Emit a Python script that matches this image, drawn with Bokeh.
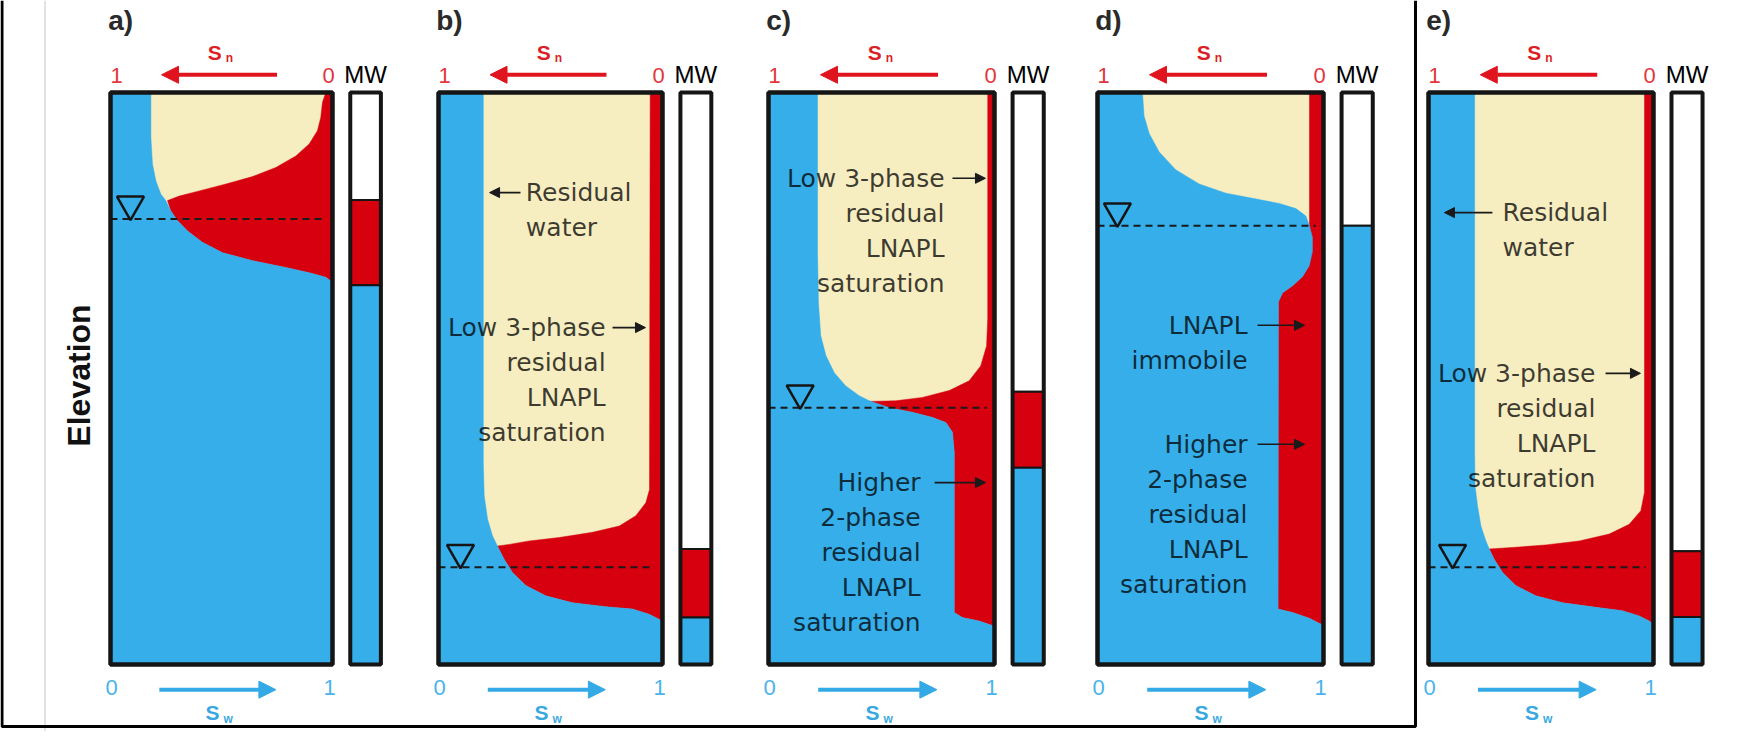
import math
from bokeh.plotting import figure
from bokeh.models import Range1d, Arrow, NormalHead
from bokeh.core.properties import value
from bokeh.embed import file_html
from bokeh.resources import INLINE

# ---------------------------------------------------------------- data
panel_labels = ["a)", "b)", "c)", "d)", "e)"]

# normalised elevation (0 = bottom of column, 100 = top) vs. water saturation S_w
a_w_elev = [100, 92.1, 87.5, 84.6, 82.2, 81.1, 79.3, 77.6, 75.8, 73.8, 72.0, 70.6, 69.4, 68.5, 67.7, 66.8, 0]
a_w_sat = [0.182, 0.182, 0.189, 0.204, 0.227, 0.249, 0.272, 0.302, 0.347, 0.414, 0.505, 0.640, 0.790, 0.895, 0.970, 1.0, 1.0]
# elevation vs. LNAPL saturation S_n (measured from the right edge)
a_n_elev = [100, 98.3, 95.6, 93.3, 91.0, 88.9, 86.9, 85.3, 84.0, 82.8, 81.9, 81.1, 79.3, 77.6, 75.8,
            73.8, 72.0, 70.6, 69.4, 68.5, 67.7, 66.8]
a_n_sat = [0.03, 0.045, 0.053, 0.068, 0.105, 0.165, 0.255, 0.36, 0.48, 0.60, 0.69, 0.743, 0.728, 0.698,
           0.653, 0.586, 0.495, 0.36, 0.21, 0.105, 0.03, 0.0]

b_w_elev = [100, 35.3, 29.5, 25.4, 22.5, 20.7, 18.4, 16.1, 13.8, 12.0, 10.8, 10.1, 9.7, 8.8, 7.9, 7.3, 0]
b_w_sat = [0.2, 0.2, 0.204, 0.219, 0.241, 0.263, 0.293, 0.330, 0.390, 0.479, 0.598, 0.747, 0.866, 0.94,
           0.985, 1.0, 1.0]
b_n_elev = [100, 30.6, 28.3, 26.0, 24.2, 23.1, 22.2, 21.6, 21.0, 20.7, 18.4, 16.1, 13.8, 12.0, 10.8,
            10.1, 9.7, 8.8, 7.9, 7.3]
b_n_sat = [0.055, 0.058, 0.074, 0.119, 0.193, 0.313, 0.461, 0.595, 0.684, 0.737, 0.707, 0.670, 0.610,
           0.521, 0.402, 0.253, 0.134, 0.06, 0.015, 0.0]

c_w_elev = [100, 72.0, 63.3, 57.5, 54.0, 51.0, 48.7, 47.0, 46.1, 44.9, 44.1, 43.2, 42.3, 40.6, 37.1,
            9.1, 8.2, 7.6, 6.8, 6.3, 0]
c_w_sat = [0.217, 0.217, 0.221, 0.231, 0.254, 0.291, 0.342, 0.401, 0.446, 0.534, 0.637, 0.726, 0.785,
           0.814, 0.822, 0.822, 0.858, 0.932, 0.991, 1.0, 1.0]
c_n_elev = [100, 60.4, 55.7, 52.2, 49.6, 47.9, 46.7, 46.1, 46.0, 44.9, 44.1, 43.2, 42.3, 40.6, 37.1,
            9.1, 8.2, 7.6, 6.8, 6.3]
c_n_sat = [0.03, 0.03, 0.035, 0.061, 0.112, 0.2, 0.319, 0.437, 0.554, 0.466, 0.363, 0.274, 0.215,
           0.186, 0.178, 0.178, 0.142, 0.068, 0.009, 0.0]

d_w_elev = [100, 95.9, 92.8, 89.6, 86.5, 84.0, 82.4, 81.5, 80.6, 79.7, 78.4, 76.8, 74.7, 72.2, 69.7,
            67.8, 66.2, 65.0, 63.4, 9.7, 9.1, 8.1, 6.9, 6.5, 0]
d_w_sat = [0.199, 0.206, 0.229, 0.273, 0.346, 0.45, 0.568, 0.686, 0.804, 0.878, 0.922, 0.937, 0.951,
           0.951, 0.937, 0.907, 0.863, 0.819, 0.801, 0.799, 0.863, 0.937, 0.996, 1.0, 1.0]
d_n_elev = [100, 70.0, 67.8, 66.2, 65.0, 63.4, 9.7, 9.1, 8.1, 6.9, 6.5]
d_n_sat = [0.062, 0.062, 0.093, 0.137, 0.181, 0.201, 0.201, 0.137, 0.063, 0.004, 0.0]

e_w_elev = [100, 37.1, 31.2, 27.7, 24.2, 21.6, 20.2, 18.4, 16.1, 13.8, 12.0, 10.8, 10.0, 9.4, 8.5,
            7.6, 7.0, 0]
e_w_sat = [0.205, 0.205, 0.207, 0.218, 0.233, 0.255, 0.27, 0.292, 0.329, 0.388, 0.477, 0.596, 0.744,
           0.862, 0.936, 0.981, 1.0, 1.0]
e_n_elev = [100, 30.1, 26.9, 24.5, 22.8, 21.6, 20.9, 20.5, 20.2, 18.4, 16.1, 13.8, 12.0, 10.8, 10.0,
            9.4, 8.5, 7.6, 7.0]
e_n_sat = [0.04, 0.04, 0.056, 0.108, 0.197, 0.33, 0.479, 0.612, 0.73, 0.708, 0.671, 0.612, 0.523,
           0.404, 0.256, 0.138, 0.064, 0.019, 0.0]

water_sat_profiles = [(a_w_elev, a_w_sat), (b_w_elev, b_w_sat), (c_w_elev, c_w_sat),
                      (d_w_elev, d_w_sat), (e_w_elev, e_w_sat)]
lnapl_sat_profiles = [(a_n_elev, a_n_sat), (b_n_elev, b_n_sat), (c_n_elev, c_n_sat),
                      (d_n_elev, d_n_sat), (e_n_elev, e_n_sat)]

water_table_elev = [77.9, 17.0, 44.9, 76.7, 17.0]
# monitoring well (MW): air above white_bottom, LNAPL down to blue_top, water below
mw_white_bottom = [81.2, 20.2, 47.7, 76.7, 19.8]
mw_blue_top = [66.3, 8.2, 34.4, 76.7, 8.3]

sw_tick_values = [0, 1]
sw_tick_labels = ["0", "1"]
sn_tick_values = [1, 0]
sn_tick_labels = ["1", "0"]

# annotations: (lines, S_w anchor, elevation of first line, align, arrow S_w start, arrow S_w end)
notes = [
    [],
    [(["Residual", "water"], 0.39, 82.5, "left", 0.366, 0.228),
     (["Low 3-phase", "residual", "LNAPL", "saturation"], 0.746, 58.9, "right", 0.777, 0.924)],
    [(["Low 3-phase", "residual", "LNAPL", "saturation"], 0.779, 85.0, "right", 0.814, 0.960),
     (["Higher", "2-phase", "residual", "LNAPL", "saturation"], 0.673, 31.8, "right", 0.735, 0.960)],
    [(["LNAPL", "immobile"], 0.664, 59.3, "right", 0.708, 0.916),
     (["Higher", "2-phase", "residual", "LNAPL", "saturation"], 0.664, 38.5, "right", 0.708, 0.916)],
    [(["Residual", "water"], 0.329, 79.0, "left", 0.284, 0.071),
     (["Low 3-phase", "residual", "LNAPL", "saturation"], 0.742, 50.9, "right", 0.787, 0.942)],
]

# ---------------------------------------------------------------- layout
X0, Y0, W, H = 8, 8, 1734, 731
BOX_TOP_PX, BOX_BOT_PX = 100, 672
PX_PER_E = (BOX_BOT_PX - BOX_TOP_PX) / 100.0
box_left_px = [118, 446, 776, 1105, 1436]
box_right_px = [340, 670, 1002, 1331, 1661]
wt_marker_s = [0.09, 0.098, 0.14, 0.088, 0.107]
MW_L, MW_R = 1.08, 1.218
LINE_STEP = 35 / PX_PER_E

BLUE = "#35aeea"
RED = "#d7000f"
BEIGE = "#f6edc0"
INK = "#151515"

p = figure(width=W, height=H, x_range=Range1d(X0, X0 + W), y_range=Range1d(Y0 + H, Y0),
           output_backend="svg", toolbar_location=None, min_border=0,
           x_axis_location=None, y_axis_location=None)
p.grid.visible = False
p.outline_line_color = None
p.background_fill_color = "white"
p.border_fill_color = "white"

p.extra_y_ranges = {"elev": Range1d(start=(BOX_BOT_PX - (Y0 + H)) / PX_PER_E,
                                    end=(BOX_BOT_PX - Y0) / PX_PER_E)}
xr = {}
for i in range(5):
    L, R = box_left_px[i], box_right_px[i]
    s0 = (X0 - L) / (R - L)
    s1 = (X0 + W - L) / (R - L)
    xr[f"w{i}"] = Range1d(start=s0, end=s1)
    xr[f"n{i}"] = Range1d(start=1 - s0, end=1 - s1)
p.extra_x_ranges = xr

# page frame and faint image border
p.line(x=[52.5, 52.5], y=[Y0, Y0 + H], line_color="#c4c4c4", line_width=1)
p.line(x=[9.5, 9.5, 1423, 1423], y=[Y0, 734, 734, Y0], line_color="black", line_width=3)

# Elevation label
p.text(x=[86], y=[383], text=["Elevation"], angle=math.pi / 2, text_align="center",
       text_baseline="middle", text_font=value("Liberation Sans"), text_font_style="bold",
       text_font_size="32px", text_color="#111111")

for i in range(5):
    xw, xn = f"w{i}", f"n{i}"
    kw = dict(x_range_name=xw, y_range_name="elev")
    kn = dict(x_range_name=xn, y_range_name="elev")

    # air (beige) background of the column
    p.quad(left=[0], right=[1], bottom=[0], top=[100], fill_color=BEIGE, line_color=None, **kw)
    # LNAPL
    ne, ns = lnapl_sat_profiles[i]
    p.patch(x=[0] + ns + [0], y=[ne[0]] + ne + [ne[-1]], fill_color=RED, line_color=RED,
            line_width=0.5, **kn)
    # water
    we, ws = water_sat_profiles[i]
    p.patch(x=[0] + ws + [0], y=[we[0]] + we + [we[-1]], fill_color=BLUE, line_color=BLUE,
            line_width=0.5, **kw)

    # water table
    wt = water_table_elev[i]
    p.line(x=[0, 0.965], y=[wt, wt], line_dash="7 5", line_width=2, line_color="#1a1a1a", **kw)
    p.scatter(x=[wt_marker_s[i]], y=[wt + 14.5 / PX_PER_E], marker="inverted_triangle", size=27,
              fill_color=None, line_color=INK, line_width=2.5, **kw)

    # column outline
    p.quad(left=[0], right=[1], bottom=[0], top=[100], fill_color=None, line_color=INK,
           line_width=4.5, **kw)

    # monitoring well
    wb, bt = mw_white_bottom[i], mw_blue_top[i]
    p.quad(left=[MW_L], right=[MW_R], bottom=[wb], top=[100], fill_color="white",
           line_color=INK, line_width=2, **kw)
    if wb > bt:
        p.quad(left=[MW_L], right=[MW_R], bottom=[bt], top=[wb], fill_color=RED,
               line_color=INK, line_width=2, **kw)
    p.quad(left=[MW_L], right=[MW_R], bottom=[0], top=[bt], fill_color=BLUE,
           line_color=INK, line_width=2, **kw)
    p.quad(left=[MW_L], right=[MW_R], bottom=[0], top=[100], fill_color=None,
           line_color=INK, line_width=4, **kw)
    p.text(x=[(MW_L + MW_R) / 2], y=[103.1], text=["MW"], text_align="center",
           text_baseline="middle", text_font=value("Liberation Sans"), text_font_size="24px",
           text_color="black", **kw)

    # panel label
    p.text(x=[-0.01], y=[112.6], text=[panel_labels[i]], text_align="left",
           text_baseline="middle", text_font=value("Liberation Sans"), text_font_style="bold",
           text_font_size="28px", text_color="#2a2a2a", **kw)

    # S_n axis (top, red, pointing left)
    p.text(x=sn_tick_values, y=[103.0, 103.0], text=sn_tick_labels, x_offset=[6, -4],
           text_align="center", text_baseline="middle", text_font=value("Liberation Sans"),
           text_font_size="22px", text_color="#e2363c", **kn)
    p.add_layout(Arrow(end=NormalHead(size=17, fill_color="#e0141e", line_color="#e0141e"),
                       x_start=0.25, x_end=0.77, y_start=103.1, y_end=103.1,
                       line_color="#e0141e", line_width=4, **kn))
    p.text(x=[0.53], y=[107.0], text=["S"], text_align="center", text_baseline="middle",
           text_font=value("Liberation Sans"), text_font_style="bold", text_font_size="21px",
           text_color="#dc1f26", **kn)
    p.text(x=[0.53], y=[107.0], text=["n"], x_offset=[11], y_offset=[6], text_align="left",
           text_baseline="middle", text_font=value("Liberation Sans"), text_font_style="bold",
           text_font_size="12px", text_color="#dc1f26", **kn)

    # S_w axis (bottom, blue, pointing right)
    p.text(x=sw_tick_values, y=[-4.0, -4.0], text=sw_tick_labels, x_offset=[1, -3],
           text_align="center", text_baseline="middle", text_font=value("Liberation Sans"),
           text_font_size="22px", text_color="#49b3ea", **kw)
    p.add_layout(Arrow(end=NormalHead(size=17, fill_color="#33a9e6", line_color="#33a9e6"),
                       x_start=0.22, x_end=0.745, y_start=-4.4, y_end=-4.4,
                       line_color="#33a9e6", line_width=4, **kw))
    p.text(x=[0.46], y=[-8.4], text=["S"], text_align="center", text_baseline="middle",
           text_font=value("Liberation Sans"), text_font_style="bold", text_font_size="21px",
           text_color="#3aa8e0", **kw)
    p.text(x=[0.46], y=[-8.4], text=["w"], x_offset=[11], y_offset=[6], text_align="left",
           text_baseline="middle", text_font=value("Liberation Sans"), text_font_style="bold",
           text_font_size="12px", text_color="#3aa8e0", **kw)

    # annotations
    for lines, s, e0, align, a0, a1 in notes[i]:
        ys = [e0 - k * LINE_STEP for k in range(len(lines))]
        p.text(x=[s] * len(lines), y=ys, text=lines, text_align=align, text_baseline="middle",
               text_font=value("DejaVu Sans"), text_font_size="25px", text_color="black",
               text_alpha=0.76, **kw)
        p.add_layout(Arrow(end=NormalHead(size=10, fill_color="#1a1a1a", line_color="#1a1a1a"),
                           x_start=a0, x_end=a1, y_start=e0, y_end=e0,
                           line_color="#1a1a1a", line_width=1.6, **kw))

open("out.html", "w").write(file_html(p, INLINE))
